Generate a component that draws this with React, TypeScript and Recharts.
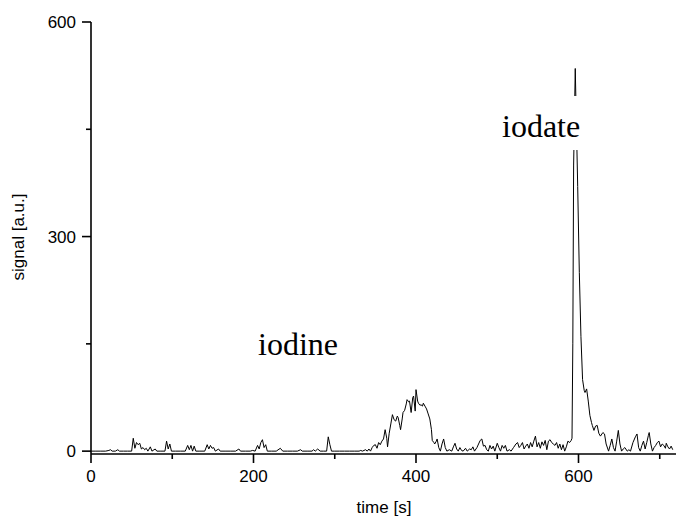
import React from "react";
import { LineChart, Line, XAxis, YAxis } from "recharts";

// time [s], signal [a.u.], split by region
const baselineEarly = [
  [0, 0], [6, 0], [12, 0], [18, 0], [22, 1], [24, 2], [26, 0], [30, 0], [33, 2], [35, 0],
  [40, 0], [45, 0], [50, 0], [52, 18], [54, 4], [56, 12], [58, 9], [60, 11], [62, 3], [64, 5],
  [66, 2], [68, 4], [70, 0], [73, 6], [75, 0], [79, 3], [81, 0], [86, 0], [91, 0], [93, 14],
  [95, 3], [97, 10], [99, 0], [104, 0], [110, 0], [116, 0], [119, 8], [121, 2], [123, 8], [125, 0],
  [127, 7], [129, 0], [134, 0], [140, 0], [143, 9], [145, 3], [147, 8], [149, 4], [151, 5], [153, 0],
  [157, 3], [159, 0], [165, 0], [172, 0], [178, 0], [182, 3], [184, 0], [190, 0], [196, 0], [199, 1],
  [202, 0], [205, 8], [207, 3], [209, 12], [211, 16], [213, 5], [215, 9], [217, 0], [222, 0], [228, 0],
  [233, 4], [236, 0], [242, 0], [248, 0], [254, 0], [258, 2], [260, 0], [266, 0], [272, 0], [274, 2],
  [276, 0], [279, 3], [282, 0], [286, 0], [290, 0], [292, 20], [294, 9], [296, 0], [300, 0], [306, 0],
  [312, 0], [318, 0], [324, 0], [330, 0], [332, 1], [334, 0], [338, 2], [340, 0], [342, 3], [344, 0],
  [346, 5],
];

const iodineHump = [
  [348, 8], [350, 9], [352, 4], [354, 12], [356, 9], [358, 14], [360, 17], [362, 30], [364, 18], [365, 6],
  [367, 25], [369, 38], [371, 51], [373, 44], [375, 42], [377, 49], [378, 47], [380, 36], [381, 30], [383, 45],
  [384, 54], [386, 57], [388, 66], [389, 72], [391, 69], [392, 70], [394, 54], [396, 75], [397, 77], [399, 56],
  [400, 86], [402, 70], [403, 67], [405, 64], [406, 65], [408, 63], [409, 67], [411, 63], [413, 59], [415, 52],
  [417, 45], [419, 30], [420, 15], [422, 12], [423, 10], [425, 14], [426, 17], [428, 5], [430, 0], [432, 10],
  [434, 17], [436, 5], [438, 0],
];

const baselineLate = [
  [441, 2], [444, 0], [446, 6], [448, 11], [450, 3], [452, 0], [454, 5], [456, 1], [458, 0], [461, 4],
  [463, 0], [466, 3], [468, 2], [470, 6], [472, 0], [475, 5], [477, 10], [479, 15], [481, 17], [483, 7],
  [485, 8], [487, 2], [489, 0], [491, 8], [493, 3], [495, 7], [497, 0], [500, 11], [502, 5], [504, 0],
  [506, 8], [508, 4], [510, 8], [512, 0], [515, 2], [517, 0], [520, 5], [523, 10], [525, 12], [527, 5],
  [529, 8], [531, 12], [533, 3], [535, 7], [537, 10], [539, 4], [541, 12], [543, 6], [545, 14], [547, 21],
  [549, 6], [551, 12], [553, 4], [555, 13], [557, 8], [559, 15], [561, 2], [563, 14], [565, 16], [567, 12],
  [569, 10], [571, 8], [573, 12], [575, 4], [577, 10], [579, 2], [581, 9], [583, 0], [585, 6], [587, 14],
  [589, 12], [591, 15],
];

const iodatePeak = [
  [592, 18], [593, 150], [594, 400], [596, 535], [599, 370], [601, 250], [603, 160], [605, 100], [607, 85], [608, 82],
  [610, 87], [612, 70], [614, 50], [616, 40], [617, 36], [619, 29], [621, 35], [623, 36], [625, 25], [627, 21],
  [630, 26], [632, 24], [634, 10], [637, 0], [639, 8], [641, 17], [643, 5], [645, 0], [647, 14], [649, 29],
  [651, 10], [653, 0], [655, 3], [657, 5], [660, 0], [662, 2], [664, 0], [667, 12], [670, 20], [672, 24],
  [674, 5], [676, 0], [678, 8], [680, 14], [682, 3], [684, 12], [686, 22], [687, 26], [689, 10], [691, 0],
  [693, 5], [695, 8], [697, 12], [699, 14], [701, 6], [703, 10], [705, 8], [707, 4], [708, 11], [710, 6],
  [712, 3], [714, 7], [716, 2],
];

const xTicks = [0, 100, 200, 300, 400, 500, 600, 700];
const xLabelled = [0, 200, 400, 600];
const yTicks = [0, 150, 300, 450, 600];
const yLabelled = [0, 300, 600];

const data = [...baselineEarly, ...iodineHump, ...baselineLate, ...iodatePeak].map(
  ([t, v]) => ({ t, v })
);

const sans = "'Liberation Sans', Arial, sans-serif";
const serif = "'Liberation Serif', 'Times New Roman', serif";

const XTick = (props: any) => {
  const { x, y, payload } = props;
  const major = xLabelled.includes(payload.value);
  return (
    <g>
      <line x1={x} x2={x} y1={y} y2={y + (major ? 9 : 5)} stroke="#000" strokeWidth={1.6} />
      {major && (
        <text x={x} y={y + 28} textAnchor="middle" fontSize={17} fontFamily={sans} fill="#000">
          {payload.value}
        </text>
      )}
    </g>
  );
};

const YTick = (props: any) => {
  const { x, y, payload } = props;
  const major = yLabelled.includes(payload.value);
  return (
    <g>
      <line x1={x - (major ? 9 : 5)} x2={x} y1={y} y2={y} stroke="#000" strokeWidth={1.6} />
      {major && (
        <text x={x - 15} y={y + 6} textAnchor="end" fontSize={17} fontFamily={sans} fill="#000">
          {payload.value}
        </text>
      )}
    </g>
  );
};

export default function App() {
  return (
    <div style={{ position: "absolute", left: 0, top: 0, width: 676, height: 519, background: "#fff" }}>
      <LineChart width={676} height={519} data={data} margin={{ top: 22, right: 0, left: 0, bottom: 0 }}>
        <XAxis
          dataKey="t"
          type="number"
          domain={[0, 720]}
          ticks={xTicks}
          tick={<XTick />}
          tickLine={false}
          tickSize={0}
          tickMargin={0}
          height={65}
          axisLine={{ stroke: "#000", strokeWidth: 1.6 }}
          label={{
            content: () => (
              <text x={384} y={513} textAnchor="middle" fontSize={17} fontFamily={sans} fill="#000">
                time [s]
              </text>
            ),
          }}
        />
        <YAxis
          dataKey="v"
          type="number"
          domain={[-4, 600]}
          ticks={yTicks}
          tick={<YTick />}
          tickLine={false}
          tickSize={0}
          tickMargin={0}
          width={91}
          axisLine={{ stroke: "#000", strokeWidth: 1.6 }}
          label={{
            content: () => (
              <text
                transform="translate(24,237) rotate(-90)"
                textAnchor="middle"
                fontSize={17}
                fontFamily={sans}
                fill="#000"
              >
                signal [a.u.]
              </text>
            ),
          }}
        />
        <Line
          type="linear"
          dataKey="v"
          stroke="#000"
          strokeWidth={1}
          dot={false}
          isAnimationActive={false}
        />
      </LineChart>
      <div
        style={{
          position: "absolute",
          left: 258,
          top: 328,
          fontFamily: serif,
          fontSize: 32,
          lineHeight: "32px",
          color: "#000",
        }}
      >
        iodine
      </div>
      <div
        style={{
          position: "absolute",
          left: 500,
          top: 96,
          paddingTop: 14,
          paddingBottom: 8,
          paddingLeft: 2,
          paddingRight: 2,
          background: "#fff",
          fontFamily: serif,
          fontSize: 32,
          lineHeight: "32px",
          color: "#000",
        }}
      >
        iodate
      </div>
    </div>
  );
}
